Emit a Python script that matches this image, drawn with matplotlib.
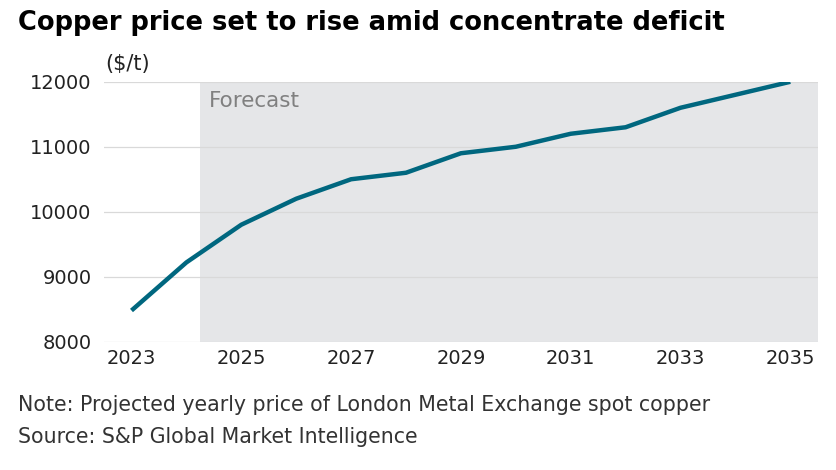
import matplotlib.pyplot as plt

plt.rcParams['font.family'] = ['DejaVu Sans']

# data
years = [2023, 2024, 2025, 2026, 2027, 2028, 2029, 2030, 2031, 2032, 2033, 2034, 2035]
price = [8480, 9220, 9800, 10200, 10500, 10600, 10900, 11000, 11200, 11300, 11600, 11800, 12000]
forecast_start = 2024.25
yticks = [8000, 9000, 10000, 11000, 12000]
xticks = [2023, 2025, 2027, 2029, 2031, 2033, 2035]

fig = plt.figure(figsize=(8.37, 4.70), dpi=100)
ax = fig.add_axes([0.1243, 0.273, 0.977 - 0.1243, 0.826 - 0.273])

ax.set_xlim(2022.5, 2035.5)
ax.set_ylim(8000, 12000)

# forecast shading
ax.axvspan(forecast_start, 2035.5, color='#e5e6e8', zorder=0, lw=0)
ax.text(forecast_start + 0.16, 11700, 'Forecast', fontsize=15.5, color='#808080',
        va='center', ha='left')

for y in yticks:
    ax.axhline(y, color='#d9d9d9', lw=0.9, zorder=1)

ax.plot(years, price, color='#00677f', lw=3.2, zorder=3, solid_capstyle='butt')

ax.set_xticks(xticks)
ax.set_xticklabels([str(x) for x in xticks])
ax.set_yticks(yticks)
ax.set_yticklabels([str(y) for y in yticks])
ax.tick_params(length=0, labelsize=14, colors='#222222')
ax.tick_params(axis='y', pad=9)
ax.tick_params(axis='x', pad=5)
for s in ax.spines.values():
    s.set_visible(False)

fig.text(0.1255, 0.863, '($/t)', fontsize=15, color='#222222', va='center', ha='left')
fig.text(0.021, 0.951, 'Copper price set to rise amid concentrate deficit',
         fontsize=18.5, fontweight='bold', color='#000000', va='center', ha='left')
fig.text(0.021, 0.139, 'Note: Projected yearly price of London Metal Exchange spot copper',
         fontsize=14.8, color='#333333', va='center', ha='left')
fig.text(0.021, 0.07, 'Source: S&P Global Market Intelligence',
         fontsize=14.8, color='#333333', va='center', ha='left')

fig.savefig('out.png', dpi=100)
